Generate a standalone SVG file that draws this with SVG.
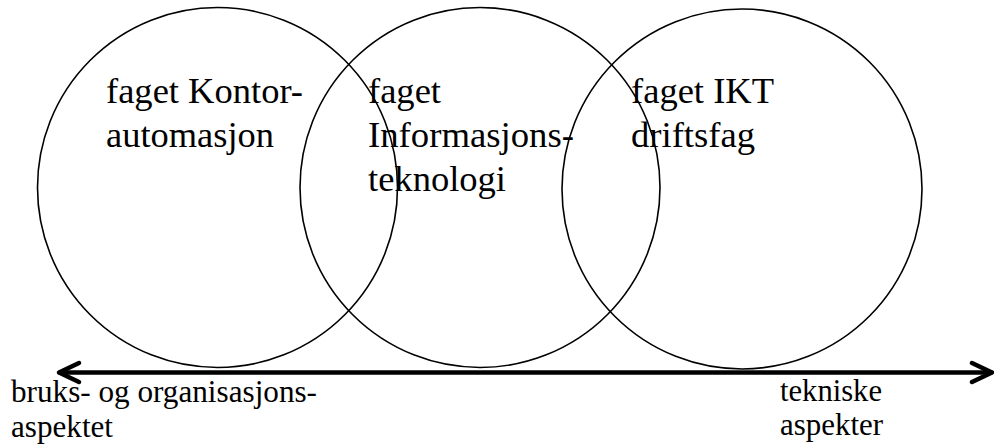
<svg xmlns="http://www.w3.org/2000/svg" width="994" height="447" viewBox="0 0 994 447">
  <style>
    .ring { fill: none; stroke: #000; stroke-width: 1.6; }
    text { font-family: "Liberation Serif", "Times New Roman", Times, Tinos, "Nimbus Roman", "Nimbus Roman No9 L", "Noto Serif", "DejaVu Serif", FreeSerif, Georgia, serif; fill: #000; }
    .label { font-size: 36.5px; }
    .axis-label { font-size: 31px; }
    .axis { stroke: #000; stroke-width: 4.5; fill: none; stroke-linecap: round; stroke-linejoin: round; }
  </style>
  <rect width="994" height="447" fill="#fff"/>

  <g id="kontorautomasjon">
    <circle class="ring" cx="217.5" cy="187.5" r="180"/>
    <text class="label" x="106" y="103" textLength="197" lengthAdjust="spacingAndGlyphs">faget Kontor-</text>
    <text class="label" x="106" y="147" textLength="168" lengthAdjust="spacingAndGlyphs">automasjon</text>
  </g>

  <g id="informasjonsteknologi">
    <circle class="ring" cx="480" cy="187.5" r="180"/>
    <text class="label" x="368" y="103" textLength="73" lengthAdjust="spacingAndGlyphs">faget</text>
    <text class="label" x="368" y="147" textLength="206" lengthAdjust="spacingAndGlyphs">Informasjons-</text>
    <text class="label" x="368" y="191" textLength="138" lengthAdjust="spacingAndGlyphs">teknologi</text>
  </g>

  <g id="ikt-driftsfag">
    <circle class="ring" cx="742" cy="189" r="180"/>
    <text class="label" x="631" y="103" textLength="143" lengthAdjust="spacingAndGlyphs">faget IKT</text>
    <text class="label" x="631" y="147" textLength="124" lengthAdjust="spacingAndGlyphs">driftsfag</text>
  </g>

  <g id="connectors">
    <line class="axis" x1="60" y1="372.5" x2="991" y2="372.5"/>
    <polyline class="axis" points="79,363 59,372.5 79,382"/>
    <polyline class="axis" points="972,363 992,372.5 972,382"/>
  </g>

  <g id="bruksaspekt">
    <text class="axis-label" x="11" y="402" textLength="306" lengthAdjust="spacingAndGlyphs">bruks- og organisasjons-</text>
    <text class="axis-label" x="11" y="437" textLength="102" lengthAdjust="spacingAndGlyphs">aspektet</text>
  </g>

  <g id="tekniske-aspekter">
    <text class="axis-label" x="780" y="401" textLength="102" lengthAdjust="spacingAndGlyphs">tekniske</text>
    <text class="axis-label" x="780" y="435" textLength="103" lengthAdjust="spacingAndGlyphs">aspekter</text>
  </g>
</svg>
